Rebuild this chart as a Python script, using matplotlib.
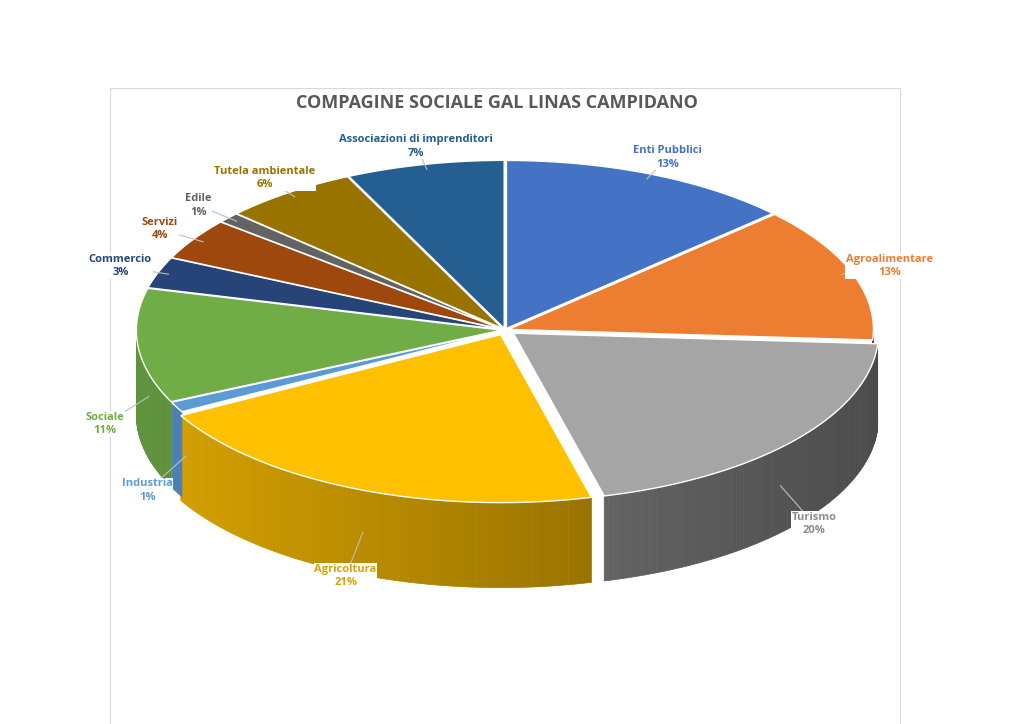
import matplotlib.pyplot as plt
import matplotlib.colors as mc
import numpy as np

labels = ["Enti Pubblici", "Agroalimentare", "Turismo", "Agricoltura", "Industria",
          "Sociale", "Commercio", "Servizi", "Edile", "Tutela ambientale",
          "Associazioni di imprenditori"]
values = [13, 13, 20, 21, 1, 11, 3, 4, 1, 6, 7]
colors = ["#4472C4", "#ED7D31", "#A5A5A5", "#FFC000", "#5B9BD5", "#70AD47",
          "#264478", "#9E480E", "#636363", "#997300", "#255E91"]
explode = [0.01, 0.01, 0.03, 0.03, 0.01, 0.01, 0.01, 0.01, 0.01, 0.01, 0.01]

cx, cy, a, b, depth = 505, 330, 365, 168, 85

fig = plt.figure(figsize=(10.24, 7.24), dpi=100)
ax = fig.add_axes([0, 0, 1, 1])
ax.set_xlim(0, 1024)
ax.set_ylim(724, 0)
ax.axis("off")
ax.add_patch(plt.Rectangle((110, 88), 790, 640, fill=False, ec="#D9D9D9", lw=0.8))
ax.text(497, 103, "COMPAGINE SOCIALE GAL LINAS CAMPIDANO", ha="center", va="center",
        fontsize=13, fontweight="bold", color="#595959", family="Open Sans")

fr = np.array(values) / sum(values)
starts = np.concatenate([[0], np.cumsum(fr)[:-1]]) * 2 * np.pi
ends = starts + fr * 2 * np.pi


def pt(t, ox, oy, r=1.0):
    return cx + ox + r * a * np.sin(t), cy + oy - r * b * np.cos(t)


tops = []
sides = []
for i, (s, e) in enumerate(zip(starts, ends)):
    mid = (s + e) / 2
    ox, oy = explode[i] * a * np.sin(mid), -explode[i] * b * np.cos(mid)
    base = np.array(mc.to_rgb(colors[i]))
    ts = np.linspace(s, e, max(4, int((e - s) * 80)))
    for t0, t1 in zip(ts[:-1], ts[1:]):
        if np.cos((t0 + t1) / 2) < 0.0:
            x0, y0 = pt(t0, ox, oy)
            x1, y1 = pt(t1, ox, oy)
            shade = 0.45 + 0.4 * (1 + np.sin((t0 + t1) / 2 - np.pi)) / 2
            c = base * shade
            sides.append([(x0, y0), (x1, y1), (x1, y1 + depth), (x0, y0 + depth)])
            sides[-1] = (sides[-1], c)
    xs, ys = pt(ts, ox, oy)
    poly = [(cx + ox, cy + oy)] + list(zip(xs, ys))
    tops.append((poly, colors[i]))

for p, c in sides:
    ax.add_patch(plt.Polygon(p, closed=True, fc=c, ec=c, lw=0.5))
for p, c in tops:
    ax.add_patch(plt.Polygon(p, closed=True, fc=c, ec="white", lw=1.0))

for i, (s, e) in enumerate(zip(starts, ends)):
    mid = (s + e) / 2
    front = np.cos(mid) < 0
    r = 1.12 if not front else 1.1
    lx, ly = pt(mid, 0, depth * 0.9 if front else 0, r)
    ex, ey = pt(mid, 0, depth * 0.6 if front else 0, 0.98)
    col = mc.to_rgb(colors[i])
    if colors[i] == "#FFC000":
        col = np.array(col) * 0.85
    if colors[i] == "#A5A5A5":
        col = "#8C8C8C"
    ax.plot([ex, lx], [ey, ly], color="#BFBFBF", lw=0.8)
    ax.text(lx, ly, f"{labels[i]}\n{values[i]}%", ha="center", va="center",
            fontsize=8, fontweight="bold", color=col, linespacing=1.3,
            family="Open Sans",
            bbox=dict(fc="white", ec="none", pad=0.5))

fig.savefig("out.png", dpi=100)
